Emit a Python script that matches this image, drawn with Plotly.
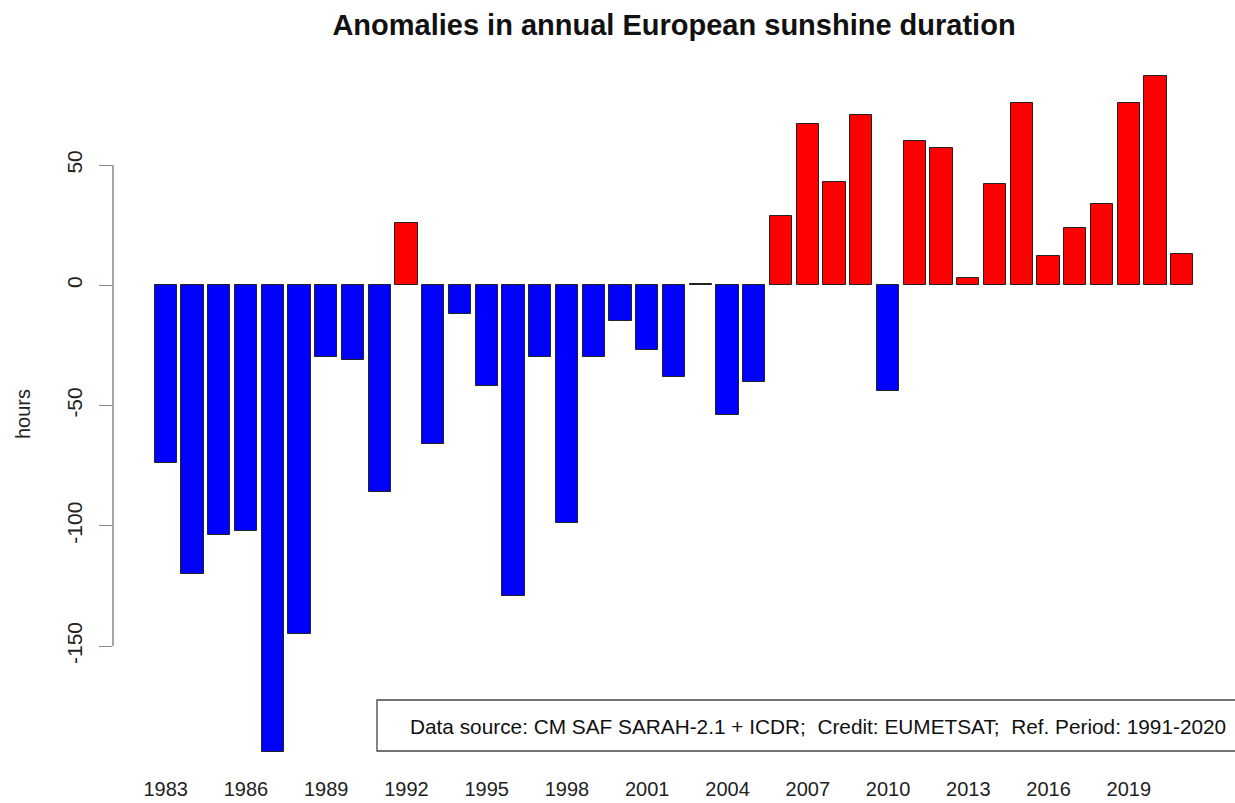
import plotly.graph_objects as go

years = list(range(1983, 2022))
anomalies = [-74, -120, -104, -102, -194, -145, -30, -31, -86, 26,
             -66, -12, -42, -129, -30, -99, -30, -15, -27, -38,
             0.4, -54, -40, 29, 67, 43, 71, -44, 60, 57,
             3, 42, 76, 12, 24, 34, 76, 87, 13]
ytick_vals = [-150, -100, -50, 0, 50]
xtick_years = years[::3]
title_text = "Anomalies in annual European sunshine duration"
ylabel = "hours"
source_text = "Data source: CM SAF SARAH-2.1 + ICDR;  Credit: EUMETSAT;  Ref. Period: 1991-2020"

colors = ["#FF0000" if v > 0 else "#0000FF" for v in anomalies]

# R barplot-like geometry: bar width 1, space 0.2, 4% axis extension
n = len(years)
u_lo, u_hi = 0.2, 0.2 + 1.2 * n - 0.2
ext = 0.04 * (u_hi - u_lo)
to_year = lambda u: years[0] + (u - 0.7) / 1.2
x_range = [to_year(u_lo - ext), to_year(u_hi + ext)]
y_lo, y_hi = min(0, min(anomalies)), max(0, max(anomalies))
yext = 0.04 * (y_hi - y_lo)
y_range = [y_lo - yext, y_hi + yext]

FONT = "Liberation Sans, Arial, sans-serif"
W, H = 1235, 803
L, R, T, B = 113, 0, 49, 24
PW, PH = W - L - R, H - T - B

fig = go.Figure(go.Bar(
    x=years, y=anomalies, width=1 / 1.2,
    marker=dict(color=colors, line=dict(color="#222222", width=1)),
    showlegend=False, hoverinfo="x+y",
))

fig.update_layout(
    width=W, height=H,
    margin=dict(l=L, r=R, t=T, b=B, autoexpand=False),
    paper_bgcolor="white", plot_bgcolor="white",
    font=dict(family=FONT, size=20, color="#222222"),
    title=dict(text="<b>" + title_text + "</b>", x=0.5, xanchor="center",
               xref="paper", y=1 - 25 / H, yanchor="middle",
               font=dict(size=29, color="#111111", family=FONT)),
    bargap=0,
)
fig.update_xaxes(range=x_range, showline=False, showgrid=False, zeroline=False,
                 automargin=False,
                 tickmode="array", tickvals=xtick_years,
                 ticktext=[str(y) for y in xtick_years],
                 ticks="", ticklabelstandoff=-4, tickfont=dict(size=20))
fig.update_yaxes(range=y_range, showline=False, showgrid=False, zeroline=False,
                 automargin=False,
                 tickmode="array", tickvals=ytick_vals,
                 ticktext=[str(v) for v in ytick_vals],
                 ticks="outside", ticklen=13, tickwidth=1.3, tickcolor="#888888",
                 ticklabelstandoff=9,
                 tickangle=-90, tickfont=dict(size=21))

# y axis title placed like R's ylab
fig.add_annotation(text=ylabel, xref="paper", yref="paper",
                   x=(23 - L) / PW, xanchor="center", y=0.5, yanchor="middle",
                   textangle=-90, showarrow=False,
                   font=dict(size=20, color="#222222", family=FONT))

# y axis line spanning only the ticks (R style)
fig.add_shape(type="line", xref="paper", yref="y", x0=0, x1=0,
              y0=min(ytick_vals), y1=max(ytick_vals),
              line=dict(color="#888888", width=1.5))

# source box (legend-like)
fig.add_shape(type="rect", xref="paper", yref="paper",
              x0=(377 - L) / PW, x1=1.01, y0=(H - B - 751) / PH, y1=(H - B - 700) / PH,
              line=dict(color="#444444", width=1.3), fillcolor="white")
fig.add_annotation(text=source_text, xref="paper", yref="paper",
                   x=(1228 - L) / PW, xanchor="right",
                   y=(H - B - 726) / PH, yanchor="middle",
                   showarrow=False, font=dict(size=20.8, color="#111111", family=FONT))

fig.write_html("out.html", config={"displayModeBar": False},
               post_script="document.body.style.margin='0';")
